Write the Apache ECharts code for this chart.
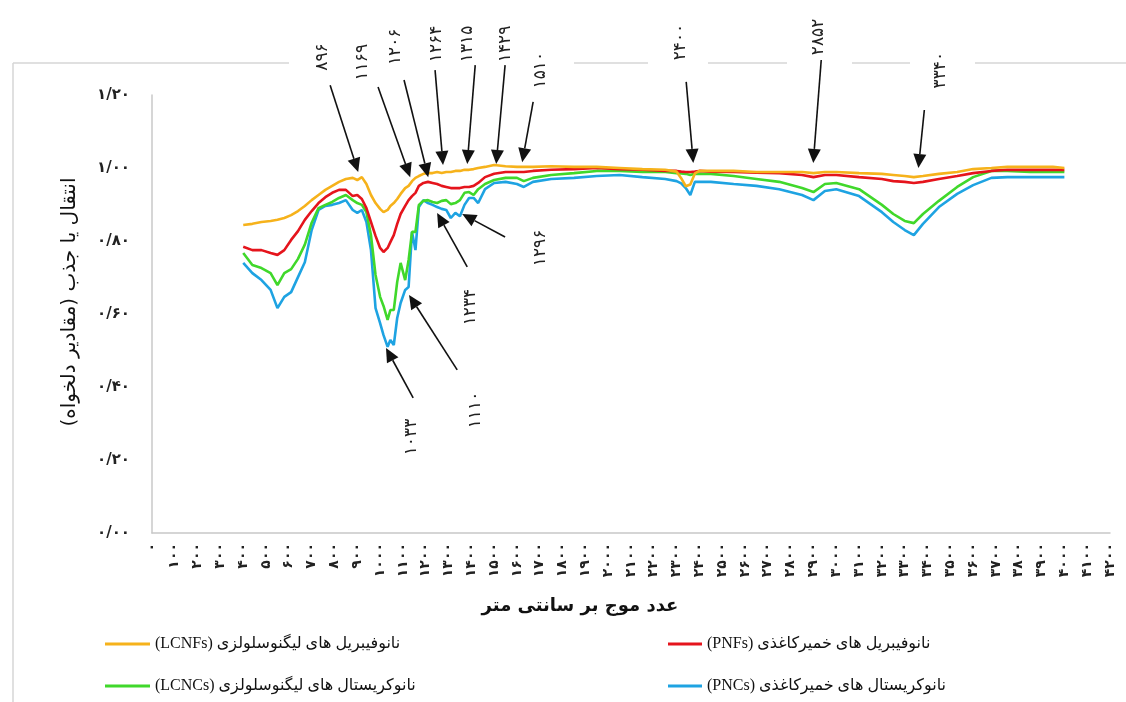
<!DOCTYPE html>
<html><head><meta charset="utf-8">
<script src="https://cdn.jsdelivr.net/npm/echarts@6/dist/echarts.min.js"></script>
<style>html,body{margin:0;padding:0;background:#fff}#c{width:1126px;height:702px}</style>
</head><body><div id="c"></div>
<script>
// ---- data ----
const wavenumbers = [400,440,480,520,550,580,610,640,670,700,730,760,790,820,850,880,900,920,940,960,980,1000,1015,1033,1045,1060,1075,1090,1110,1125,1140,1155,1170,1190,1210,1230,1250,1270,1290,1310,1330,1350,1370,1390,1410,1430,1460,1500,1550,1600,1630,1670,1750,1850,1950,2050,2150,2250,2300,2320,2340,2360,2380,2400,2450,2550,2650,2750,2850,2900,2950,3000,3100,3200,3250,3300,3340,3380,3450,3530,3600,3680,3750,3850,3950,4000];
const lcnfs = [.844,.847,.852,.855,.858,.863,.871,.882,.896,.912,.926,.940,.951,.962,.970,.973,.967,.975,.956,.926,.904,.888,.879,.885,.896,.904,.915,.929,.945,.951,.964,.973,.978,.984,.986,.986,.989,.986,.989,.989,.992,.992,.995,.995,.997,1.0,1.003,1.008,1.005,1.003,1.003,1.003,1.005,1.003,1.003,1.0,.997,.995,.990,.972,.950,.955,.985,.992,.992,.992,.989,.989,.989,.986,.989,.989,.986,.984,.981,.978,.975,.978,.984,.989,.997,1.0,1.003,1.003,1.003,1.0];
const pnfs = [.784,.775,.775,.767,.762,.775,.803,.827,.858,.882,.904,.920,.932,.940,.940,.923,.926,.915,.890,.852,.814,.781,.770,.781,.797,.816,.847,.874,.896,.912,.923,.932,.951,.959,.962,.959,.956,.951,.948,.945,.945,.945,.948,.948,.951,.959,.975,.984,.989,.989,.989,.992,.995,.997,1.0,.997,.995,.992,.992,.990,.989,.989,.990,.992,.990,.989,.987,.986,.981,.975,.981,.981,.975,.970,.964,.962,.959,.962,.970,.978,.986,.992,.995,.995,.995,.995];
const lcncs = [.767,.734,.726,.712,.679,.712,.723,.751,.790,.850,.890,.899,.907,.918,.926,.912,.904,.899,.879,.816,.707,.647,.622,.584,.611,.611,.688,.740,.693,.748,.825,.825,.899,.910,.912,.907,.904,.910,.912,.901,.904,.912,.932,.934,.926,.942,.956,.967,.973,.973,.964,.973,.981,.986,.992,.992,.989,.989,.986,.985,.984,.981,.984,.984,.984,.978,.970,.962,.945,.934,.956,.959,.942,.899,.874,.855,.849,.874,.910,.948,.975,.992,.992,.989,.989,.989];
const pncs = [.740,.712,.693,.666,.616,.647,.660,.701,.742,.830,.885,.896,.899,.904,.912,.885,.877,.885,.852,.775,.616,.575,.542,.510,.529,.515,.589,.630,.666,.674,.825,.775,.893,.912,.904,.899,.893,.888,.885,.863,.877,.868,.899,.918,.918,.904,.942,.959,.962,.956,.948,.962,.970,.973,.978,.981,.975,.970,.964,.958,.945,.926,.962,.962,.962,.956,.951,.942,.926,.912,.937,.942,.923,.879,.852,.830,.816,.847,.893,.929,.953,.973,.975,.975,.975,.975];
const seriesNames = [
  '(LCNFs) نانوفیبریل های لیگنوسلولزی',
  '(PNFs) نانوفیبریل های خمیرکاغذی',
  '(LCNCs) نانوکریستال های لیگنوسلولزی',
  '(PNCs) نانوکریستال های خمیرکاغذی'
];
const seriesColors = ['#F6B21B','#E5141C','#40D82B','#1EA3E2'];
const xTickStep = 100, xMin = 0, xMax = 4200;
const yTickStep = 0.2, yMin = 0, yMax = 1.2;
const xAxisTitle = 'عدد موج بر سانتی متر';
const yAxisTitle = 'انتقال یا جذب (مقادیر دلخواه)\u200F';
// annotations (data units): label value, arrow tip, arrow tail, label centre
const annText = [896,1169,1206,1264,1315,1429,1510,2400,2852,3340,1033,1110,1234,1296];
const annTip  = [[904,.989],[1132,.975],[1211,.975],[1276,1.008],[1382,1.011],[1509,1.011],[1623,1.016],[2373,1.014],[2899,1.014],[3360,1.0],[1026,.507],[1127,.652],[1250,.877],[1360,.874]];
const annTail = [[781,1.227],[991,1.222],[1105,1.241],[1241,1.268],[1417,1.282],[1548,1.282],[1671,1.181],[2342,1.236],[2934,1.296],[3386,1.159],[1145,.370],[1338,.447],[1382,.729],[1548,.811]];
const annLab  = [[746,1.304],[925,1.290],[1066,1.332],[1246,1.340],[1382,1.340],[1548,1.340],[1702,1.268],[2316,1.345],[2921,1.359],[3456,1.268],[1136,.263],[1417,.337],[1395,.619],[1702,.781]];

const FA = '۰۱۲۳۴۵۶۷۸۹';
const fa = s => String(s).replace(/[0-9]/g, d => FA[+d]);

const chart = echarts.init(document.getElementById('c'), null, {renderer: 'canvas'});
const seriesData = [lcnfs, pnfs, lcncs, pncs];
const legendText = {fontSize: 16, color: '#111', fontFamily: "'Liberation Serif', 'DejaVu Sans', serif"};
const option = {
  backgroundColor: '#fff',
  animation: false,
  grid: {left: 152, right: 16, top: 95, bottom: 169, containLabel: false},
  xAxis: {
    type: 'value', min: xMin, max: xMax, interval: xTickStep,
    axisLine: {show: true, lineStyle: {color: '#c8c8c8', width: 1.5}},
    axisTick: {show: false}, splitLine: {show: false},
    axisLabel: {rotate: 90, margin: 10, fontSize: 14, fontWeight: 'bold', color: '#222',
      fontFamily: 'DejaVu Sans', hideOverlap: false, showMinLabel: true, showMaxLabel: true,
      formatter: v => fa(v)}
  },
  yAxis: {
    type: 'value', min: yMin, max: yMax, interval: yTickStep,
    axisLine: {show: true, lineStyle: {color: '#c8c8c8', width: 1.5}},
    axisTick: {show: false}, splitLine: {show: false},
    axisLabel: {margin: 22, fontSize: 15, fontWeight: 'bold', color: '#222', fontFamily: 'DejaVu Sans',
      formatter: v => fa(v.toFixed(2).replace('.', '/'))}
  },
  legend: [
    {data: [seriesNames[0], seriesNames[2]], left: 105, top: 636, padding: 0, orient: 'vertical', itemGap: 26,
     itemWidth: 45, itemHeight: 3, icon: 'rect', textStyle: legendText},
    {data: [seriesNames[1], seriesNames[3]], left: 668, top: 636, padding: 0, orient: 'vertical', itemGap: 26,
     itemWidth: 34, itemHeight: 3, icon: 'rect', textStyle: legendText}
  ],
  series: seriesNames.map((n, i) => ({
    name: n, type: 'line', showSymbol: false, symbol: 'none',
    color: seriesColors[i],
    lineStyle: {width: 2.6, color: seriesColors[i]},
    z: 10 - i,
    data: wavenumbers.map((w, k) => [w, seriesData[i][k]])
  }))
};
chart.setOption(option);

// decorations and annotations
const g = [];
const frameColor = '#d6d6d6';
[[13,289],[574,648],[708,787],[852,910],[975,1126]].forEach(s => {
  g.push({type: 'line', shape: {x1: s[0], y1: 63, x2: s[1], y2: 63}, style: {stroke: frameColor, lineWidth: 1.5}, silent: true});
});
g.push({type: 'line', shape: {x1: 13, y1: 63, x2: 13, y2: 702}, style: {stroke: frameColor, lineWidth: 1.5}, silent: true});
g.push({type: 'text', x: 580, y: 606, style: {text: xAxisTitle, fontSize: 18, fontWeight: 'bold', fill: '#111',
  fontFamily: 'DejaVu Sans', align: 'center', verticalAlign: 'middle'}});
g.push({type: 'text', x: 70, y: 302, rotation: Math.PI / 2, style: {text: yAxisTitle, fontSize: 20, fill: '#111',
  fontFamily: 'DejaVu Sans', align: 'center', verticalAlign: 'middle'}});

const P = p => chart.convertToPixel({gridIndex: 0}, p);
annText.forEach((t, i) => {
  const tip = P(annTip[i]), tail = P(annTail[i]), lab = P(annLab[i]);
  const dx = tip[0] - tail[0], dy = tip[1] - tail[1];
  const L = Math.hypot(dx, dy), ux = dx / L, uy = dy / L;
  const hl = 14, hw = 6.5;
  const bx = tip[0] - ux * hl, by = tip[1] - uy * hl;
  g.push({type: 'line', shape: {x1: tail[0], y1: tail[1], x2: bx, y2: by}, style: {stroke: '#111', lineWidth: 1.6}, z: 50});
  g.push({type: 'polygon', shape: {points: [[tip[0], tip[1]], [bx - uy * hw, by + ux * hw], [bx + uy * hw, by - ux * hw]]},
    style: {fill: '#111'}, z: 50});
  g.push({type: 'text', x: lab[0], y: lab[1], rotation: Math.PI / 2, z: 50,
    style: {text: fa(t), fontSize: 17, fill: '#222', fontFamily: 'DejaVu Sans', align: 'center', verticalAlign: 'middle'}});
});
chart.setOption({graphic: g});
</script>
</body></html>
